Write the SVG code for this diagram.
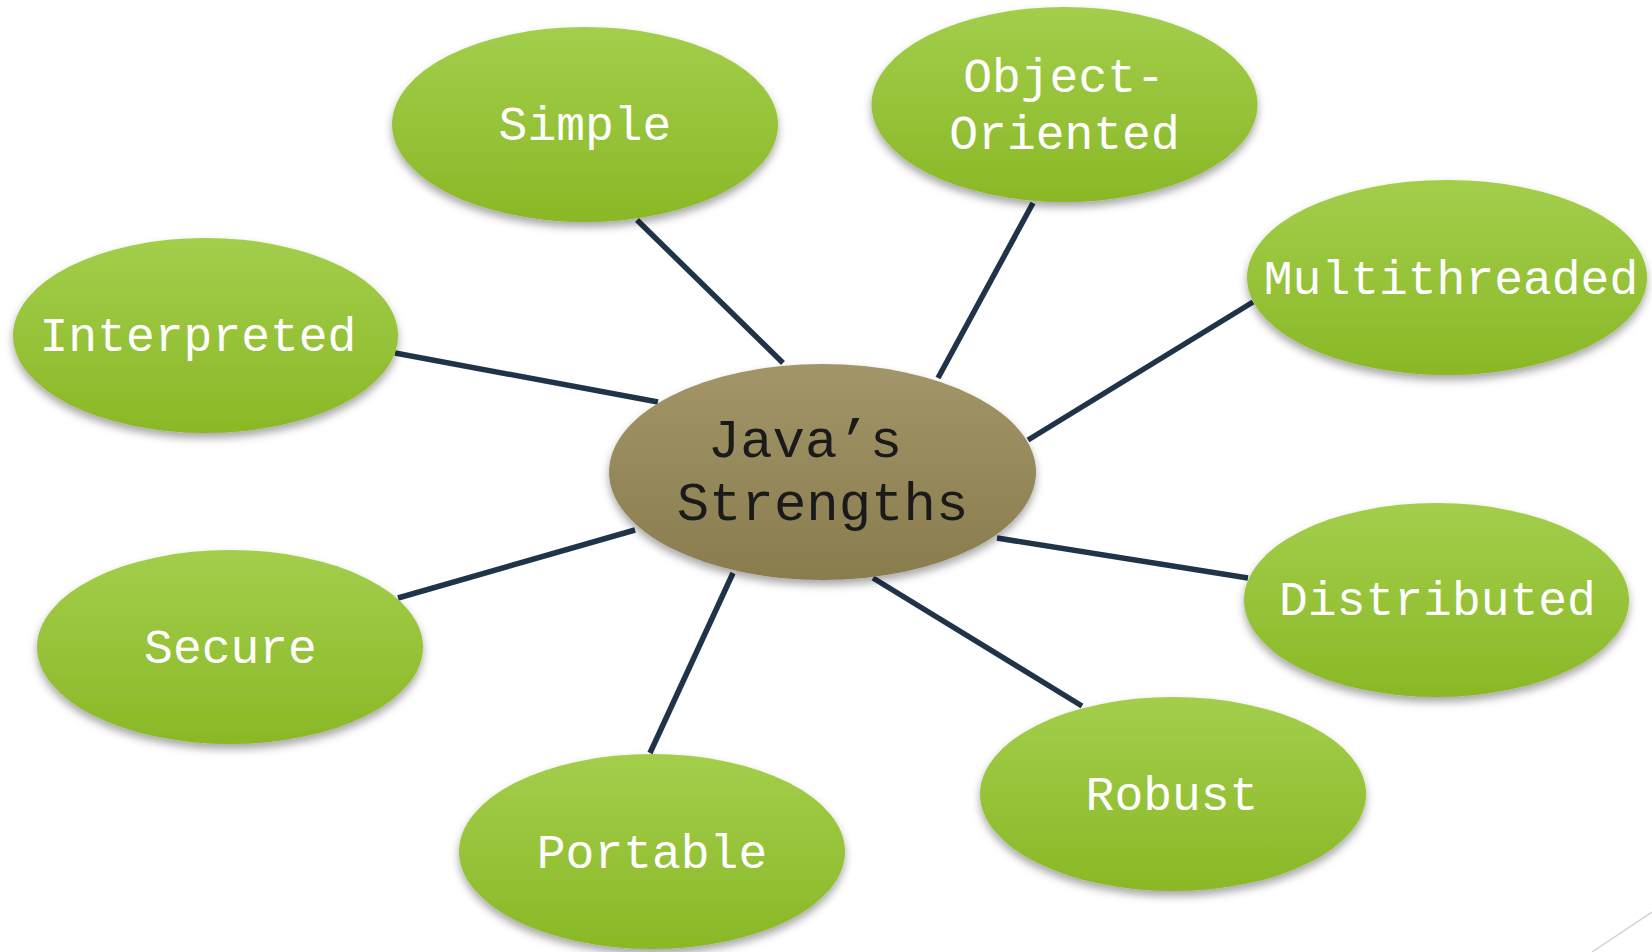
<svg xmlns="http://www.w3.org/2000/svg" width="1652" height="952" viewBox="0 0 1652 952">
  <defs>
    <linearGradient id="gGreen" x1="0" y1="0" x2="0" y2="1">
      <stop offset="0" stop-color="#A3CE4C"/>
      <stop offset="1" stop-color="#8AB826"/>
    </linearGradient>
    <linearGradient id="gOlive" x1="0" y1="0" x2="0" y2="1">
      <stop offset="0" stop-color="#A29669"/>
      <stop offset="1" stop-color="#897C4E"/>
    </linearGradient>
    <filter id="shadow" x="-10%" y="-10%" width="120%" height="130%">
      <feDropShadow dx="0" dy="5" stdDeviation="4" flood-color="#000" flood-opacity="0.35"/>
    </filter>
  </defs>
  <style>
    .leaf { fill: url(#gGreen); filter: url(#shadow); }
    .hub { fill: url(#gOlive); filter: url(#shadow); }
    .lt { font-family: "Liberation Mono", "Courier New", monospace; font-size: 48px; fill: #FFFFFF; text-anchor: middle; }
    .ht { font-family: "Liberation Mono", "Courier New", monospace; font-size: 54px; fill: #1A1A1A; text-anchor: middle; }
    .conn line { stroke: #1F3349; stroke-width: 5.5; stroke-linecap: butt; }
  </style>
  <rect width="1652" height="952" fill="#FFFFFF"/>
  <line x1="1592" y1="952" x2="1652" y2="912" stroke="#D3D3D3" stroke-width="1.5"/>

  <g id="connectors" class="conn">
    <line x1="637" y1="220" x2="783" y2="363"/>
    <line x1="1033" y1="203" x2="938" y2="378"/>
    <line x1="1253" y1="302" x2="1028" y2="440"/>
    <line x1="395" y1="353" x2="658" y2="402"/>
    <line x1="398" y1="598" x2="635" y2="530"/>
    <line x1="650" y1="753" x2="733" y2="573"/>
    <line x1="1082" y1="706" x2="873" y2="578"/>
    <line x1="1248" y1="578" x2="997" y2="538"/>
  </g>

  <g id="node-simple">
    <ellipse class="leaf" cx="585" cy="124.5" rx="193" ry="97.5"/>
    <text class="lt" x="585" y="140">Simple</text>
  </g>
  <g id="node-object-oriented">
    <ellipse class="leaf" cx="1064.5" cy="104.5" rx="193" ry="97.5"/>
    <text class="lt" x="1064" y="92">Object-</text>
    <text class="lt" x="1064.5" y="149">Oriented</text>
  </g>
  <g id="node-multithreaded">
    <ellipse class="leaf" cx="1447" cy="277.5" rx="200" ry="97.5"/>
    <text class="lt" x="1451" y="294">Multithreaded</text>
  </g>
  <g id="node-interpreted">
    <ellipse class="leaf" cx="205.5" cy="335.5" rx="192.5" ry="97.5"/>
    <text class="lt" x="198" y="351">Interpreted</text>
  </g>
  <g id="node-secure">
    <ellipse class="leaf" cx="230" cy="647" rx="193" ry="97"/>
    <text class="lt" x="230.5" y="663">Secure</text>
  </g>
  <g id="node-portable">
    <ellipse class="leaf" cx="652" cy="851.5" rx="193" ry="97.5"/>
    <text class="lt" x="652" y="868">Portable</text>
  </g>
  <g id="node-robust">
    <ellipse class="leaf" cx="1173" cy="794" rx="193" ry="97"/>
    <text class="lt" x="1172" y="810">Robust</text>
  </g>
  <g id="node-distributed">
    <ellipse class="leaf" cx="1436.5" cy="600" rx="192.5" ry="97"/>
    <text class="lt" x="1437.5" y="615">Distributed</text>
  </g>
  <g id="node-center">
    <ellipse class="hub" cx="822.5" cy="472" rx="213.5" ry="108"/>
    <text class="ht" x="805" y="457">Java’s</text>
    <text class="ht" x="822.5" y="520">Strengths</text>
  </g>
</svg>
